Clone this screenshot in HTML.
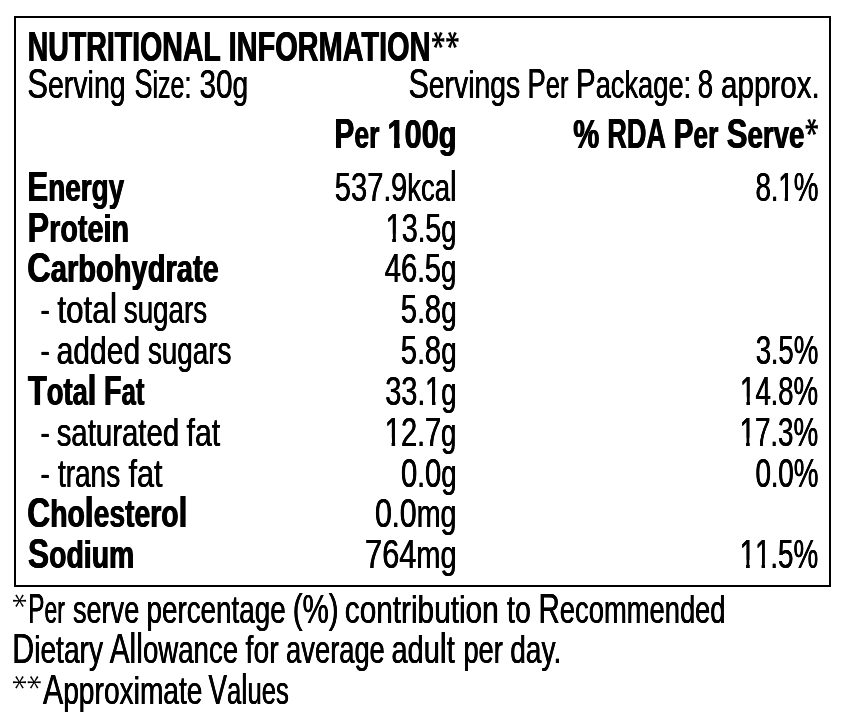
<!DOCTYPE html>
<html lang="en">
<head>
<meta charset="utf-8">
<title>Nutritional Information</title>
<style>
html,body{margin:0;padding:0;background:#fff;}
body{width:842px;height:717px;position:relative;overflow:hidden;font-family:"Liberation Sans",sans-serif;color:#000;}
#label{position:absolute;left:0;top:0;width:842px;height:717px;will-change:transform;}
.box{position:absolute;left:14px;top:16px;width:817px;height:571px;border:2px solid #000;box-sizing:border-box;}
.ln{position:absolute;left:0;width:842px;height:60px;line-height:60px;font-size:38.5px;white-space:pre;}
.ln b,.ln i{position:absolute;top:0;display:block;height:60px;font-style:normal;transform-origin:0 0;}
.ln i{font-weight:400;text-shadow:0.35px 0 0 #000,-0.35px 0 0 #000;}
.ln b{font-weight:700;text-shadow:0.6px 0 0 #000,-0.6px 0 0 #000;}
.c,.d{line-height:0;}
i .c{font-size:41.6px;}
b .c{font-size:43.2px;}
.d{font-size:40.7px;}
.ln .a{color:transparent;text-shadow:none;}
.o{display:inline-block;line-height:50px;}
i .o{clip-path:polygon(0 0,100% 0,100% calc(39px - .2em),calc(.3398em + .45px) calc(39px - .2em),calc(.3398em + .45px) 100%,calc(.2515em - .45px) 100%,calc(.2515em - .45px) calc(39px - .2em),0 calc(39px - .2em));}
b .o{clip-path:polygon(0 0,100% 0,100% calc(39px - .2em),calc(.3706em + .7px) calc(39px - .2em),calc(.3706em + .7px) 100%,calc(.2334em - .7px) 100%,calc(.2334em - .7px) calc(39px - .2em),0 calc(39px - .2em));}
#stars{position:absolute;left:0;top:0;width:842px;height:717px;}
</style>
</head>
<body>
<div id="label">
<div class="box"></div>
<div class="ln" style="top:18px"><b style="left:27px;transform:translateX(0.68px) scaleX(0.6599)"><span class="c">NUTRITIONAL</span></b> <b style="left:228px;transform:translateX(0.66px) scaleX(0.6694)"><span class="c">INFORMATION</span></b><i class="a" style="left:431px;transform:translateX(0.86px) scaleX(0.8293)"><span class="c">**</span></i></div>
<div class="ln" style="top:55px"><i style="left:27px;transform:translateX(0.38px) scaleX(0.7412)"><span class="c">S</span>erving</i> <i style="left:134px;transform:translateX(0.46px) scaleX(0.6499)"><span class="c">S</span>ize:</i> <i style="left:199px;transform:translateX(0.40px) scaleX(0.7304)"><span class="d">30</span>g</i> <i style="left:408px;transform:translateX(0.39px) scaleX(0.7365)"><span class="c">S</span>ervings</i> <i style="left:527px;transform:translateX(0.52px) scaleX(0.6593)"><span class="c">P</span>er</i> <i style="left:575px;transform:translateX(0.98px) scaleX(0.7083)"><span class="c">P</span>ackage:</i> <i style="left:697px;transform:translateX(0.72px) scaleX(0.6783)"><span class="d">8</span></i> <i style="left:721px;transform:translateX(0.03px) scaleX(0.7682)">approx.</i></div>
<div class="ln" style="top:105px"><b style="left:334px;transform:translateX(0.42px) scaleX(0.6903)"><span class="c">P</span>er</b> <b style="left:387px;transform:translateX(0.49px) scaleX(0.7551)"><span class="d"><span class="o">1</span>00</span>g</b> <b style="left:573px;transform:translateX(0.21px) scaleX(0.7192)"><span class="d">%</span></b> <b style="left:607px;transform:translateX(0.35px) scaleX(0.6264)"><span class="c">RDA</span></b> <b style="left:673px;transform:translateX(0.73px) scaleX(0.6840)"><span class="c">P</span>er</b> <b style="left:726px;transform:translateX(0.73px) scaleX(0.7193)"><span class="c">S</span>erve</b><i class="a" style="left:805px;transform:translateX(0.69px) scaleX(0.7692)"><span class="c">*</span></i></div>
<div class="ln" style="top:158px"><b style="left:27px;transform:translateX(0.35px) scaleX(0.7242)"><span class="c">E</span>nergy</b> <i style="left:334px;transform:translateX(0.85px) scaleX(0.7152)"><span class="d">537</span>.<span class="d">9</span>kca<span class="c">l</span></i> <i style="left:755px;transform:translateX(0.42px) scaleX(0.6833)"><span class="d">8</span>.<span class="d"><span class="o">1</span>%</span></i></div>
<div class="ln" style="top:199px"><b style="left:27px;transform:translateX(0.61px) scaleX(0.7470)"><span class="c">P</span>rotein</b> <i style="left:385px;transform:translateX(0.65px) scaleX(0.7076)"><span class="d"><span class="o">1</span>3</span>.<span class="d">5</span>g</i></div>
<div class="ln" style="top:239px"><b style="left:27px;transform:translateX(0.24px) scaleX(0.7550)"><span class="c">C</span>arbohydrate</b> <i style="left:384px;transform:translateX(0.64px) scaleX(0.7180)"><span class="d">46</span>.<span class="d">5</span>g</i></div>
<div class="ln" style="top:280px"><i style="left:40px;transform:translateX(0.48px) scaleX(0.7198)">-</i> <i style="left:57px;transform:translateX(0.40px) scaleX(0.8155)">tota<span class="c">l</span></i> <i style="left:123px;transform:translateX(0.80px) scaleX(0.7209)">sugars</i> <i style="left:400px;transform:translateX(0.84px) scaleX(0.7206)"><span class="d">5</span>.<span class="d">8</span>g</i></div>
<div class="ln" style="top:321px"><i style="left:40px;transform:translateX(0.48px) scaleX(0.7198)">-</i> <i style="left:56px;transform:translateX(0.62px) scaleX(0.7798)">added</i> <i style="left:147px;transform:translateX(0.90px) scaleX(0.7235)">sugars</i> <i style="left:400px;transform:translateX(0.84px) scaleX(0.7206)"><span class="d">5</span>.<span class="d">8</span>g</i> <i style="left:755px;transform:translateX(0.68px) scaleX(0.6805)"><span class="d">3</span>.<span class="d">5%</span></i></div>
<div class="ln" style="top:362px"><b style="left:28px;transform:translateX(0.01px) scaleX(0.7105)"><span class="c">T</span>ota<span class="c">l</span></b> <b style="left:103px;transform:translateX(0.96px) scaleX(0.6678)"><span class="c">F</span>at</b> <i style="left:385px;transform:translateX(0.13px) scaleX(0.7130)"><span class="d">33</span>.<span class="d"><span class="o">1</span></span>g</i> <i style="left:740px;transform:translateX(0.05px) scaleX(0.6803)"><span class="d"><span class="o">1</span>4</span>.<span class="d">8%</span></i></div>
<div class="ln" style="top:403px"><i style="left:40px;transform:translateX(0.48px) scaleX(0.7198)">-</i> <i style="left:56px;transform:translateX(0.66px) scaleX(0.7635)">saturated</i> <i style="left:186px;transform:translateX(0.60px) scaleX(0.7837)">fat</i> <i style="left:384px;transform:translateX(0.82px) scaleX(0.7161)"><span class="d"><span class="o">1</span>2</span>.<span class="d">7</span>g</i> <i style="left:739px;transform:translateX(0.64px) scaleX(0.6839)"><span class="d"><span class="o">1</span>7</span>.<span class="d">3%</span></i></div>
<div class="ln" style="top:444px"><i style="left:40px;transform:translateX(0.48px) scaleX(0.7198)">-</i> <i style="left:57px;transform:translateX(0.90px) scaleX(0.7282)">trans</i> <i style="left:128px;transform:translateX(0.50px) scaleX(0.7953)">fat</i> <i style="left:401px;transform:translateX(0.08px) scaleX(0.7175)"><span class="d">0</span>.<span class="d">0</span>g</i> <i style="left:755px;transform:translateX(0.42px) scaleX(0.6833)"><span class="d">0</span>.<span class="d">0%</span></i></div>
<div class="ln" style="top:484px"><b style="left:27px;transform:translateX(0.26px) scaleX(0.7354)"><span class="c">C</span>ho<span class="c">l</span>estero<span class="c">l</span></b> <i style="left:374px;transform:translateX(0.95px) scaleX(0.7454)"><span class="d">0</span>.<span class="d">0</span>mg</i></div>
<div class="ln" style="top:525px"><b style="left:27px;transform:translateX(0.91px) scaleX(0.7370)"><span class="c">S</span>odium</b> <i style="left:365px;transform:translateX(0.11px) scaleX(0.7544)"><span class="d">764</span>mg</i> <i style="left:739px;transform:translateX(0.64px) scaleX(0.6839)"><span class="d"><span class="o">1</span><span class="o">1</span></span>.<span class="d">5%</span></i></div>
<div class="ln" style="top:580px"><i class="a" style="left:12px;transform:translateX(0.58px) scaleX(0.8015)"><span class="c">*</span></i><i style="left:28px;transform:translateX(0.12px) scaleX(0.5932)"><span class="c">P</span>er</i> <i style="left:72px;transform:translateX(0.92px) scaleX(0.7041)">serve</i> <i style="left:146px;transform:translateX(0.45px) scaleX(0.7226)">percentage</i> <i style="left:292px;transform:translateX(0.65px) scaleX(0.7271)"><span class="d">(%)</span></i> <i style="left:344px;transform:translateX(0.83px) scaleX(0.7730)">contribution</i> <i style="left:507px;transform:translateX(0.10px) scaleX(0.7387)">to</i> <i style="left:538px;transform:translateX(0.47px) scaleX(0.7104)"><span class="c">R</span>ecommended</i></div>
<div class="ln" style="top:620px"><i style="left:12px;transform:translateX(0.31px) scaleX(0.7299)"><span class="c">D</span>ietary</i> <i style="left:109px;transform:translateX(0.72px) scaleX(0.7173)"><span class="c">All</span>owance</i> <i style="left:245px;transform:translateX(0.60px) scaleX(0.7333)">for</i> <i style="left:286px;transform:translateX(0.09px) scaleX(0.7095)">average</i> <i style="left:391px;transform:translateX(0.45px) scaleX(0.7527)">adu<span class="c">l</span>t</i> <i style="left:463px;transform:translateX(0.38px) scaleX(0.7093)">per</i> <i style="left:510px;transform:translateX(0.17px) scaleX(0.7303)">day.</i></div>
<div class="ln" style="top:661px"><i class="a" style="left:12px;transform:translateX(0.53px) scaleX(0.8802)"><span class="c">**</span></i><i style="left:42px;transform:translateX(0.92px) scaleX(0.7312)"><span class="c">A</span>pproximate</i> <i style="left:208px;transform:translateX(0.50px) scaleX(0.6661)"><span class="c">V</span>a<span class="c">l</span>ues</i></div>
<svg id="stars" viewBox="0 0 842 717" aria-hidden="true"><defs><path id="ab" d="M0.00 0.90 L6.10 1.85 L6.10 -1.85 L-0.00 -0.90ZM-0.69 0.29 L1.76 8.01 L4.44 6.89 L0.69 -0.29ZM-0.69 -0.29 L-4.44 6.89 L-1.76 8.01 L0.69 0.29ZM0.00 -0.90 L-6.10 -1.85 L-6.10 1.85 L-0.00 0.90ZM0.69 -0.29 L-1.76 -8.01 L-4.44 -6.89 L-0.69 0.29ZM0.69 0.29 L4.44 -6.89 L1.76 -8.01 L-0.69 -0.29Z"/><path id="ar" d="M0.00 0.50 L6.50 1.00 L6.50 -1.00 L-0.00 -0.50ZM-0.38 0.23 L2.83 6.24 L4.27 5.36 L0.38 -0.23ZM-0.38 -0.23 L-4.27 5.36 L-2.83 6.24 L0.38 0.23ZM0.00 -0.50 L-6.50 -1.00 L-6.50 1.00 L-0.00 0.50ZM0.38 -0.23 L-2.83 -6.24 L-4.27 -5.36 L-0.38 0.23ZM0.38 0.23 L4.27 -5.36 L2.83 -6.24 L-0.38 -0.23Z"/></defs><use href="#ab" x="438.20" y="39.90"/><use href="#ab" x="452.40" y="39.90"/><use href="#ab" x="811.75" y="126.90"/><use href="#ar" x="19.55" y="600.75"/><use href="#ar" x="19.50" y="682.30"/><use href="#ar" x="34.20" y="682.30"/></svg>
</div>
</body>
</html>
